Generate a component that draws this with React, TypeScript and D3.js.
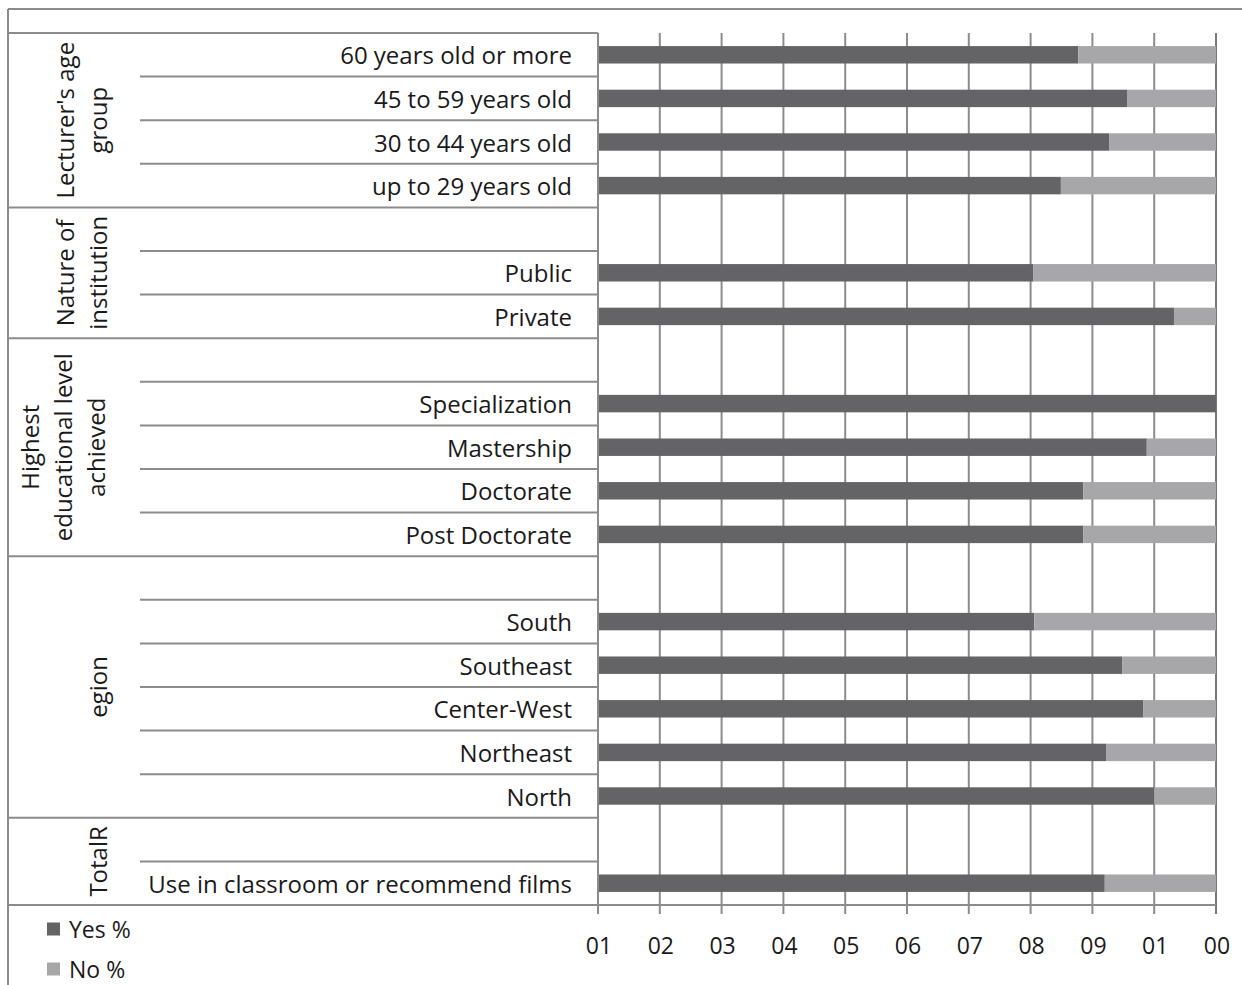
import React from "react";
import * as d3 from "d3";

const categories = [
  "60 years old or more",
  "45 to 59 years old",
  "30 to 44 years old",
  "up to 29 years old",
  "",
  "Public",
  "Private",
  "",
  "Specialization",
  "Mastership",
  "Doctorate",
  "Post Doctorate",
  "",
  "South",
  "Southeast",
  "Center-West",
  "Northeast",
  "North",
  "",
  "Use in classroom or recommend films",
];

const yesValues: (number | null)[] = [
  77.7, 85.6, 82.7, 74.9, null, 70.4, 93.2, null, 100, 88.8, 78.5, 78.5, null,
  70.6, 84.8, 88.2, 82.2, 90.0, null, 82.0,
];

const noValues: (number | null)[] = [
  22.3, 14.4, 17.3, 25.1, null, 29.6, 6.8, null, 0, 11.2, 21.5, 21.5, null,
  29.4, 15.2, 11.8, 17.8, 10.0, null, 18.0,
];

const groupLabels: string[][] = [
  ["Lecturer's age", "group"],
  ["Nature of", "institution"],
  ["Highest", "educational level", "achieved"],
  ["", "egion"],
  ["", "TotalR"],
];
const groupSizes = [4, 3, 5, 6, 2];

const tickValues = [0, 10, 20, 30, 40, 50, 60, 70, 80, 90, 100];
const tickLabels = ["01", "02", "03", "04", "05", "06", "07", "08", "09", "01", "00"];

const seriesNames = ["Yes %", "No %"];
const seriesColors = ["#646466", "#a7a7a9"];

const W = 1242;
const H = 985;
const FONT = "'Open Sans', 'Noto Sans', sans-serif";

export default function App() {
  const left = 598;
  const right = 1216;
  const top = 33;
  const bottom = 905;
  const x = d3.scaleLinear().domain([0, 100]).range([left, right]);
  const rows = d3.range(categories.length);
  const y = d3
    .scaleBand<number>()
    .domain(rows)
    .range([top, bottom])
    .paddingInner(0.6)
    .paddingOuter(0.3);
  const step = y.step();
  const rowTop = (i: number) => top + i * step;

  const gridColor = "#8c8c8c";
  const textColor = "#1a1a1a";

  const groupStarts: number[] = [];
  let acc = 0;
  groupSizes.forEach((s) => {
    groupStarts.push(acc);
    acc += s;
  });

  return (
    <svg
      width={W}
      height={H}
      style={{ position: "absolute", left: 0, top: 0, background: "#fff" }}
      fontFamily={FONT}
    >
      <rect x={0} y={0} width={W} height={H} fill="#fff" />
      {/* outer border */}
      <line x1={8} x2={W} y1={9} y2={9} stroke={gridColor} strokeWidth={2} />
      <line x1={8} x2={8} y1={9} y2={H} stroke={gridColor} strokeWidth={2} />

      {/* vertical gridlines */}
      {tickValues.map((t, i) => (
        <line
          key={"g" + i}
          x1={x(t)}
          x2={x(t)}
          y1={top}
          y2={bottom + 9}
          stroke={i === tickValues.length - 1 ? "#7a7a7a" : gridColor}
          strokeWidth={2}
        />
      ))}

      {/* category separator lines */}
      {rows.slice(1).map((i) => {
        const isGroup = groupStarts.includes(i);
        return (
          <line
            key={"r" + i}
            x1={isGroup ? 8 : 140}
            x2={left}
            y1={rowTop(i)}
            y2={rowTop(i)}
            stroke={gridColor}
            strokeWidth={2}
          />
        );
      })}
      <line x1={8} x2={left} y1={top} y2={top} stroke={gridColor} strokeWidth={2} />
      <line x1={8} x2={right} y1={bottom} y2={bottom} stroke={gridColor} strokeWidth={2} />

      {/* bars */}
      {rows.map((i) => {
        const yv = yesValues[i];
        const nv = noValues[i];
        if (yv == null || nv == null) return null;
        return (
          <g key={"b" + i}>
            <rect
              x={x(0)}
              y={y(i)}
              width={x(yv) - x(0)}
              height={y.bandwidth()}
              fill={seriesColors[0]}
            />
            {nv > 0 && (
              <rect
                x={x(yv)}
                y={y(i)}
                width={x(yv + nv) - x(yv)}
                height={y.bandwidth()}
                fill={seriesColors[1]}
              />
            )}
          </g>
        );
      })}
      <line x1={left} x2={left} y1={top} y2={bottom + 9} stroke={gridColor} strokeWidth={2} />

      {/* category labels */}
      {rows.map((i) => (
        <text
          key={"c" + i}
          x={572}
          y={(y(i) as number) + y.bandwidth() / 2}
          textAnchor="end"
          dominantBaseline="central"
          fontSize={24}
          fill={textColor}
        >
          {categories[i]}
        </text>
      ))}

      {/* group labels */}
      {groupLabels.map((lines, gi) => {
        const start = groupStarts[gi];
        const cy = rowTop(start) + (groupSizes[gi] * step) / 2;
        const cx = lines.length === 3 ? 62 : 81;
        const lh = 33;
        return (
          <g key={"gl" + gi} transform={`translate(${cx},${cy}) rotate(-90)`}>
            {lines.map((ln, li) => (
              <text
                key={li}
                x={0}
                y={(li - (lines.length - 1) / 2) * lh}
                textAnchor="middle"
                dominantBaseline="central"
                fontSize={24}
                fill={textColor}
              >
                {ln}
              </text>
            ))}
          </g>
        );
      })}

      {/* tick labels */}
      {tickValues.map((t, i) => (
        <text
          key={"t" + i}
          x={x(t) + 1}
          y={945}
          textAnchor="middle"
          dominantBaseline="central"
          fontSize={23}
          fill={textColor}
        >
          {tickLabels[i]}
        </text>
      ))}

      {/* legend */}
      {seriesNames.map((s, i) => (
        <g key={"l" + i} transform={`translate(47,${929 + i * 40})`}>
          <rect x={0} y={-6.5} width={13} height={13} fill={seriesColors[i]} />
          <text x={22} y={0} dominantBaseline="central" fontSize={23} fill={textColor}>
            {s}
          </text>
        </g>
      ))}
    </svg>
  );
}
